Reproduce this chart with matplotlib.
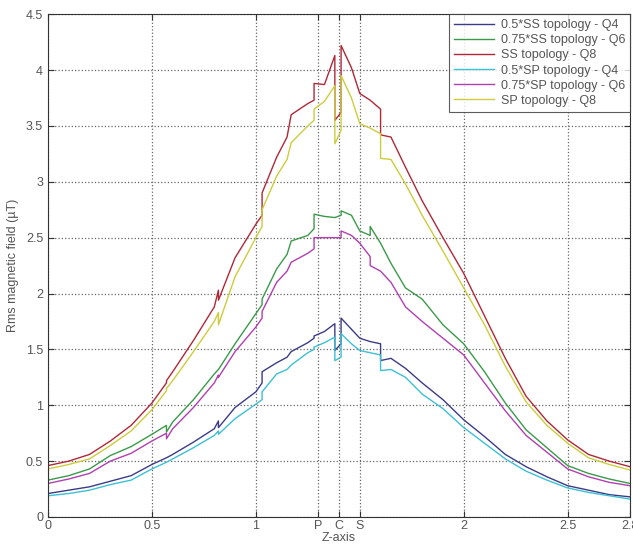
import numpy as np
import matplotlib.pyplot as plt
from matplotlib.ticker import FormatStrFormatter

plt.rcParams['font.family'] = ['Liberation Sans', 'DejaVu Sans']

# z positions (repeated values = vertical jumps in the traces)
z = [0.0, 0.1, 0.2, 0.3, 0.4, 0.5, 0.57, 0.57, 0.6, 0.7, 0.8, 0.82, 0.82, 0.9, 1.0,
     1.03, 1.03, 1.1, 1.15, 1.17, 1.25, 1.28, 1.28, 1.33, 1.38, 1.38, 1.41, 1.41,
     1.46, 1.5, 1.55, 1.55, 1.6, 1.6, 1.65, 1.72, 1.8, 1.9, 2.0, 2.1, 2.2, 2.3,
     2.4, 2.5, 2.6, 2.7, 2.8]

ss_q4 = [0.21, 0.24, 0.27, 0.32, 0.37, 0.47, 0.53, 0.53, 0.56, 0.67, 0.79, 0.86, 0.80,
         0.98, 1.12, 1.20, 1.30, 1.38, 1.43, 1.48, 1.56, 1.60, 1.62, 1.66, 1.73, 1.49,
         1.55, 1.78, 1.68, 1.60, 1.57, 1.57, 1.55, 1.40, 1.42, 1.33, 1.20, 1.05, 0.87,
         0.72, 0.56, 0.45, 0.36, 0.28, 0.24, 0.20, 0.18]
ss_q6 = [0.33, 0.37, 0.43, 0.55, 0.63, 0.74, 0.82, 0.76, 0.85, 1.05, 1.28, 1.32, 1.32,
         1.55, 1.82, 1.90, 1.95, 2.22, 2.35, 2.47, 2.52, 2.58, 2.71, 2.69, 2.68, 2.68,
         2.70, 2.74, 2.70, 2.56, 2.52, 2.60, 2.45, 2.45, 2.27, 2.05, 1.95, 1.72, 1.55,
         1.30, 1.02, 0.78, 0.62, 0.46, 0.39, 0.34, 0.30]
ss_q8 = [0.46, 0.50, 0.56, 0.68, 0.82, 1.02, 1.20, 1.22, 1.30, 1.58, 1.88, 2.03, 1.94,
         2.32, 2.62, 2.70, 2.90, 3.22, 3.40, 3.60, 3.70, 3.73, 3.88, 3.87, 4.13, 3.55,
         3.62, 4.22, 4.02, 3.79, 3.73, 3.73, 3.65, 3.42, 3.40, 3.13, 2.83, 2.50, 2.18,
         1.80, 1.42, 1.08, 0.86, 0.69, 0.56, 0.50, 0.45]
sp_q4 = [0.19, 0.21, 0.24, 0.29, 0.33, 0.43, 0.49, 0.49, 0.52, 0.62, 0.73, 0.77, 0.74,
         0.88, 1.01, 1.05, 1.12, 1.28, 1.32, 1.36, 1.47, 1.50, 1.52, 1.56, 1.61, 1.40,
         1.43, 1.64, 1.55, 1.49, 1.47, 1.47, 1.45, 1.31, 1.32, 1.25, 1.10, 0.97, 0.80,
         0.66, 0.52, 0.41, 0.33, 0.26, 0.22, 0.19, 0.16]
sp_q6 = [0.30, 0.34, 0.39, 0.50, 0.57, 0.68, 0.75, 0.70, 0.79, 0.98, 1.20, 1.27, 1.25,
         1.48, 1.70, 1.78, 1.84, 2.10, 2.20, 2.28, 2.36, 2.40, 2.50, 2.50, 2.50, 2.50,
         2.50, 2.56, 2.52, 2.45, 2.33, 2.25, 2.20, 2.20, 2.10, 1.88, 1.75, 1.60, 1.45,
         1.20, 0.95, 0.73, 0.58, 0.43, 0.36, 0.31, 0.28]
sp_q8 = [0.43, 0.47, 0.52, 0.64, 0.77, 0.96, 1.13, 1.15, 1.22, 1.48, 1.75, 1.83, 1.72,
         2.15, 2.50, 2.60, 2.75, 3.05, 3.20, 3.35, 3.50, 3.55, 3.65, 3.72, 3.86, 3.34,
         3.46, 3.95, 3.75, 3.52, 3.48, 3.48, 3.43, 3.21, 3.20, 2.98, 2.70, 2.38, 2.05,
         1.72, 1.35, 1.03, 0.82, 0.66, 0.53, 0.47, 0.42]

xticks = [0, 0.5, 1, 1.3, 1.4, 1.5, 2, 2.5, 2.8]
xticklabels = ['0', '0.5', '1', 'P', 'C', 'S', '2', '2.5', '2.8']

fig = plt.figure(figsize=(6.33, 5.45), dpi=100)
ax = fig.add_axes([0.0758, 0.0514, 0.9195, 0.9226])

ax.plot(z, ss_q4, color='#3c3c86', lw=1.0, label='0.5*SS topology - Q4')
ax.plot(z, ss_q6, color='#3a9a4a', lw=1.0, label='0.75*SS topology - Q6')
ax.plot(z, ss_q8, color='#b02838', lw=1.0, label='SS topology - Q8')
ax.plot(z, sp_q4, color='#3cc0d4', lw=1.0, label='0.5*SP topology - Q4')
ax.plot(z, sp_q6, color='#b040b0', lw=1.0, label='0.75*SP topology - Q6')
ax.plot(z, sp_q8, color='#cccc3c', lw=1.0, label='SP topology - Q8')

ax.set_xlim(0, 2.8)
ax.set_ylim(0, 4.5)
ax.set_xticks(xticks)
ax.set_xticklabels(xticklabels)
ax.set_yticks(np.arange(0, 4.51, 0.5))
ax.yaxis.set_major_formatter(FormatStrFormatter('%g'))
ax.tick_params(direction='in', length=4, colors='#333333', labelcolor='#555555',
               labelsize=9, top=True, right=True)
ax.tick_params(axis='x', pad=2)
ax.grid(True, linestyle=':', color='#666666', lw=0.9)
for s in ax.spines.values():
    s.set_color('#333333')

ax.set_xlabel('Z-axis', fontsize=9, color='#555555')
ax.xaxis.set_label_coords(0.5, -0.029)
ax.set_ylabel('Rms magnetic field (µT)', fontsize=9, color='#555555', labelpad=5)

leg = ax.legend(loc='upper right', fontsize=9, frameon=True, fancybox=False,
                borderaxespad=0, handlelength=3.2, labelspacing=0.25,
                borderpad=0.4, handletextpad=0.5)
leg.get_frame().set_edgecolor('#333333')
leg.get_frame().set_linewidth(0.8)
for t in leg.get_texts():
    t.set_color('#555555')

fig.savefig('out.png', dpi=100)
